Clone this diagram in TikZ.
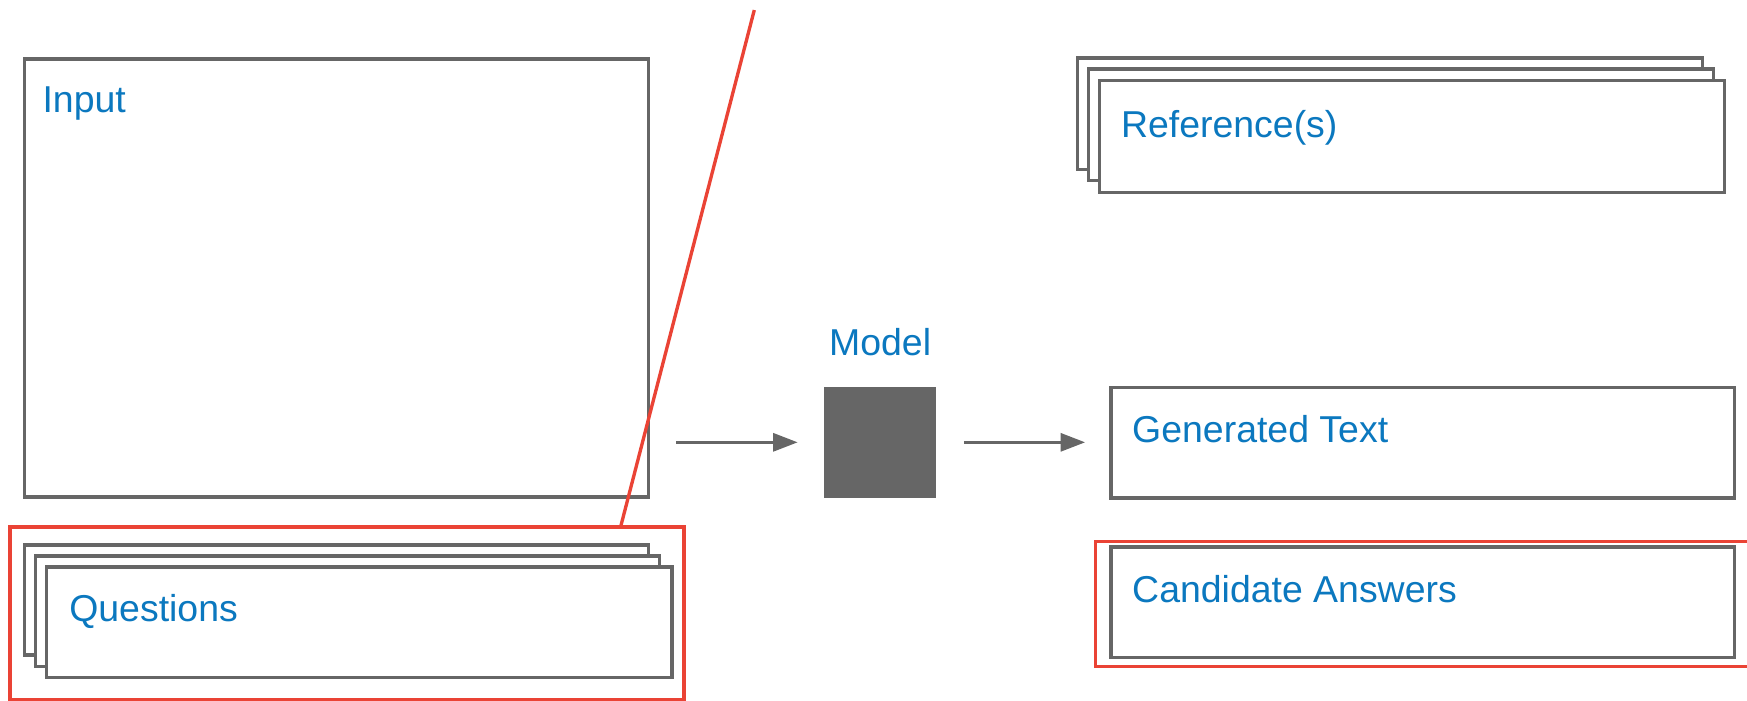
\documentclass[tikz,border=0pt]{standalone}
\usepackage{fontspec}
\setmainfont{Liberation Sans}
\usetikzlibrary{arrows.meta}
\definecolor{boxgray}{HTML}{666666}
\definecolor{hlred}{HTML}{EA4335}
\definecolor{lblblue}{HTML}{0B78BF}
\tikzset{
  box/.style={draw=boxgray, line width=3pt, fill=white, inner sep=0pt, outer sep=0pt, anchor=north west},
  hlbox/.style={draw=hlred, line width=3pt, inner sep=0pt, outer sep=0pt, anchor=north west},
  lbl/.style={text=lblblue, font=\fontsize{33.6}{40}\selectfont, inner sep=0pt, anchor=base west},
  flow/.style={draw=boxgray, line width=3pt, -{Triangle[length=22pt,width=16pt]}},
}
\begin{document}
\begin{tikzpicture}[x=1pt,y=-1pt]
\useasboundingbox (0,0) rectangle (1568,629);

% input panel
\node[box, minimum width=560pt, minimum height=393pt] (input) at (22,53) {};
\node[lbl] (inputlbl) at (38,101) {Input};

% stacked question sheets inside a highlight frame
\node[hlbox, minimum width=605pt, minimum height=155pt] (qframe) at (9,473) {};
\node[box, minimum width=560pt, minimum height=99pt] (q3) at (22,489) {};
\node[box, minimum width=560pt, minimum height=99pt] (q2) at (32,499) {};
\node[box, minimum width=561pt, minimum height=99pt] (q1) at (42,509) {};
\node[lbl] (qlbl) at (62,558) {Questions};

% the model
\node[draw=none, fill=boxgray, minimum width=100pt, minimum height=100pt, inner sep=0pt, outer sep=0pt, anchor=north west] (model) at (740,347) {};
\node[lbl] (modellbl) at (744,319.5) {Model};

% stacked reference sheets
\node[box, minimum width=561pt, minimum height=100pt] (r3) at (967,52) {};
\node[box, minimum width=561pt, minimum height=100pt] (r2) at (977,62) {};
\node[box, minimum width=561pt, minimum height=101pt] (r1) at (987,72) {};
\node[lbl] (rlbl) at (1006,123) {Reference(s)};

% generated text
\node[box, minimum width=560pt, minimum height=99pt] (gen) at (997,348) {};
\node[lbl] (genlbl) at (1016,397) {Generated Text};

% candidate answers inside a highlight frame
\node[hlbox, minimum width=600pt, minimum height=112pt] (cframe) at (983,486) {};
\node[box, minimum width=560pt, minimum height=99pt] (cand) at (997,491) {};
\node[lbl] (candlbl) at (1016,541) {Candidate Answers};

% flow arrows
\draw[flow] ([xshift=25pt]input.east |- model.center) -- ([xshift=-24pt]model.west);
\draw[flow] ([xshift=25pt]model.east) -- ([xshift=-23pt]gen.west |- model.center);

% red divider
\coordinate (divtop) at (677,9);
\draw[draw=hlred, line width=3pt] (divtop) -- (557,473) coordinate (divbot);
\end{tikzpicture}
\end{document}
